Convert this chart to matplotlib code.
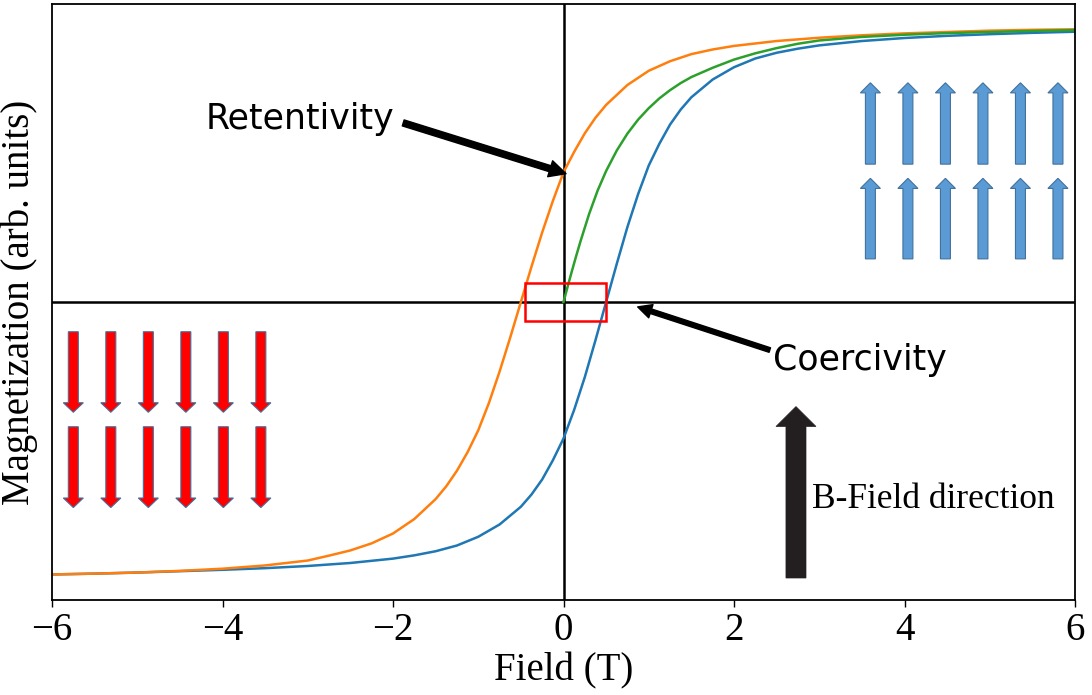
import numpy as np
import matplotlib.pyplot as plt
import matplotlib.patches as patches

plt.rcParams['font.family'] = ['Liberation Serif', 'DejaVu Serif']
plt.rcParams['font.size'] = 28

# descending branch (coming down from +saturation)
field_down = [-6.0, -5.5, -5.0, -4.5, -4.0, -3.5, -3.0, -2.75, -2.5, -2.25,
              -2.0, -1.75, -1.5, -1.375, -1.25, -1.125, -1.0, -0.875, -0.75,
              -0.625, -0.5, -0.375, -0.25, -0.125, 0.0, 0.125, 0.25, 0.375,
              0.5, 0.75, 1.0, 1.25, 1.5, 1.75, 2.0, 2.5, 3.0, 3.5, 4.0, 4.5,
              5.0, 5.5, 6.0]
mag_down = [-0.998, -0.995, -0.991, -0.985, -0.977, -0.965, -0.947, -0.929,
            -0.910, -0.884, -0.848, -0.795, -0.722, -0.675, -0.618, -0.550,
            -0.470, -0.370, -0.255, -0.130, 0.0, 0.130, 0.255, 0.370, 0.475,
            0.550, 0.618, 0.675, 0.722, 0.795, 0.847, 0.882, 0.908, 0.925,
            0.938, 0.956, 0.968, 0.977, 0.984, 0.989, 0.994, 0.997, 0.999]

# ascending branch (coming up from -saturation)
field_up = [-6.0, -5.5, -5.0, -4.5, -4.0, -3.5, -3.0, -2.5, -2.0, -1.75, -1.5,
            -1.25, -1.0, -0.75, -0.5, -0.375, -0.25, -0.125, 0.0, 0.125, 0.25,
            0.375, 0.5, 0.625, 0.75, 0.875, 1.0, 1.125, 1.25, 1.375, 1.5,
            1.75, 2.0, 2.25, 2.5, 2.75, 3.0, 3.5, 4.0, 4.5, 5.0, 5.5, 6.0]
mag_up = [-0.998, -0.995, -0.991, -0.986, -0.981, -0.975, -0.967, -0.956,
          -0.940, -0.928, -0.913, -0.892, -0.860, -0.815, -0.750, -0.705,
          -0.650, -0.580, -0.500, -0.395, -0.275, -0.140, 0.0, 0.140, 0.275,
          0.395, 0.500, 0.580, 0.650, 0.705, 0.750, 0.815, 0.860, 0.892,
          0.913, 0.928, 0.940, 0.956, 0.967, 0.975, 0.981, 0.986, 0.990]

# initial magnetisation curve
field_init = [0.0, 0.05, 0.1, 0.15, 0.2, 0.3, 0.4, 0.5, 0.625, 0.75, 0.875,
              1.0, 1.125, 1.25, 1.375, 1.5, 1.75, 2.0, 2.25, 2.5, 2.75, 3.0,
              3.5, 4.0, 4.5, 5.0, 5.5, 6.0]
mag_init = [0.0, 0.058, 0.115, 0.170, 0.223, 0.322, 0.408, 0.480, 0.555,
            0.617, 0.668, 0.710, 0.746, 0.776, 0.802, 0.824, 0.858, 0.888,
            0.911, 0.930, 0.946, 0.958, 0.971, 0.979, 0.985, 0.989, 0.993,
            0.996]

x_ticks = [-6, -4, -2, 0, 2, 4, 6]

# spin arrow columns (field units) and rows (magnetisation units)
up_cols = [3.60, 4.04, 4.48, 4.92, 5.36, 5.80]
up_rows = [(0.505, 0.803), (0.158, 0.453)]
down_cols = [-5.75, -5.31, -4.87, -4.43, -3.99, -3.55]
down_rows = [(-0.109, -0.404), (-0.457, -0.753)]


fig = plt.figure(figsize=(10.92, 6.95), dpi=100)
ax = fig.add_axes([52/1092, 95/695, 1023/1092, 596/695])

ax.plot(field_up, mag_up, color='tab:blue', lw=1.8)
ax.plot(field_down, mag_down, color='tab:orange', lw=1.8)
ax.plot(field_init, mag_init, color='tab:green', lw=1.8)

ax.axhline(0, color='k', lw=1.8, zorder=1)
ax.axvline(0, color='k', lw=1.8, zorder=1)

ax.add_patch(patches.Rectangle((-0.45, -0.07), 0.95, 0.14, fill=False,
                               edgecolor='red', lw=1.8, zorder=4))

ax.set_xlim(-6, 6)
ax.set_ylim(-1.0916, 1.0916)
ax.set_xticks(x_ticks)
ax.set_yticks([])
ax.tick_params(axis='x', length=5, width=1, pad=4)
for s in ax.spines.values():
    s.set_linewidth(1.3)

ax.set_xlabel('Field (T)', labelpad=2)
ax.set_ylabel('Magnetization (arb. units)', labelpad=10)

# annotations
ax.annotate('', xy=(0.03, 0.47), xytext=(-1.88, 0.656),
            arrowprops=dict(facecolor='black', edgecolor='black',
                            width=4.5, headwidth=12, headlength=12, shrink=0))
ax.text(-4.2, 0.634, 'Retentivity', family='DejaVu Sans', fontsize=25,
        va='baseline', ha='left')

ax.annotate('', xy=(0.87, -0.018), xytext=(2.42, -0.176),
            arrowprops=dict(facecolor='black', edgecolor='black',
                            width=3.4, headwidth=10, headlength=10, shrink=0))
ax.text(2.46, -0.249, 'Coercivity', family='DejaVu Sans', fontsize=25,
        va='baseline', ha='left')

# spin-up arrows
for lo, hi in up_rows:
    for c in up_cols:
        ax.add_patch(patches.FancyArrow(c, lo, 0, hi - lo, width=0.117,
                                        head_width=0.235, head_length=0.037,
                                        length_includes_head=True,
                                        facecolor='#5B9BD5', edgecolor='#41719C',
                                        lw=0.8, zorder=3))

# spin-down arrows
for hi, lo in down_rows:
    for c in down_cols:
        ax.add_patch(patches.FancyArrow(c, hi, 0, lo - hi, width=0.117,
                                        head_width=0.235, head_length=0.035,
                                        length_includes_head=True,
                                        facecolor='#FF0000', edgecolor='#41719C',
                                        lw=0.8, zorder=3))

# applied field direction
ax.add_patch(patches.FancyArrow(2.727, -1.011, 0, 0.628, width=0.235,
                                head_width=0.469, head_length=0.073,
                                length_includes_head=True,
                                facecolor='#231F20', edgecolor='#231F20',
                                lw=0.5, zorder=3))
ax.text(2.915, -0.755, 'B-Field direction', fontsize=25.5, va='baseline',
        ha='left')

fig.savefig('out.png', dpi=100)
